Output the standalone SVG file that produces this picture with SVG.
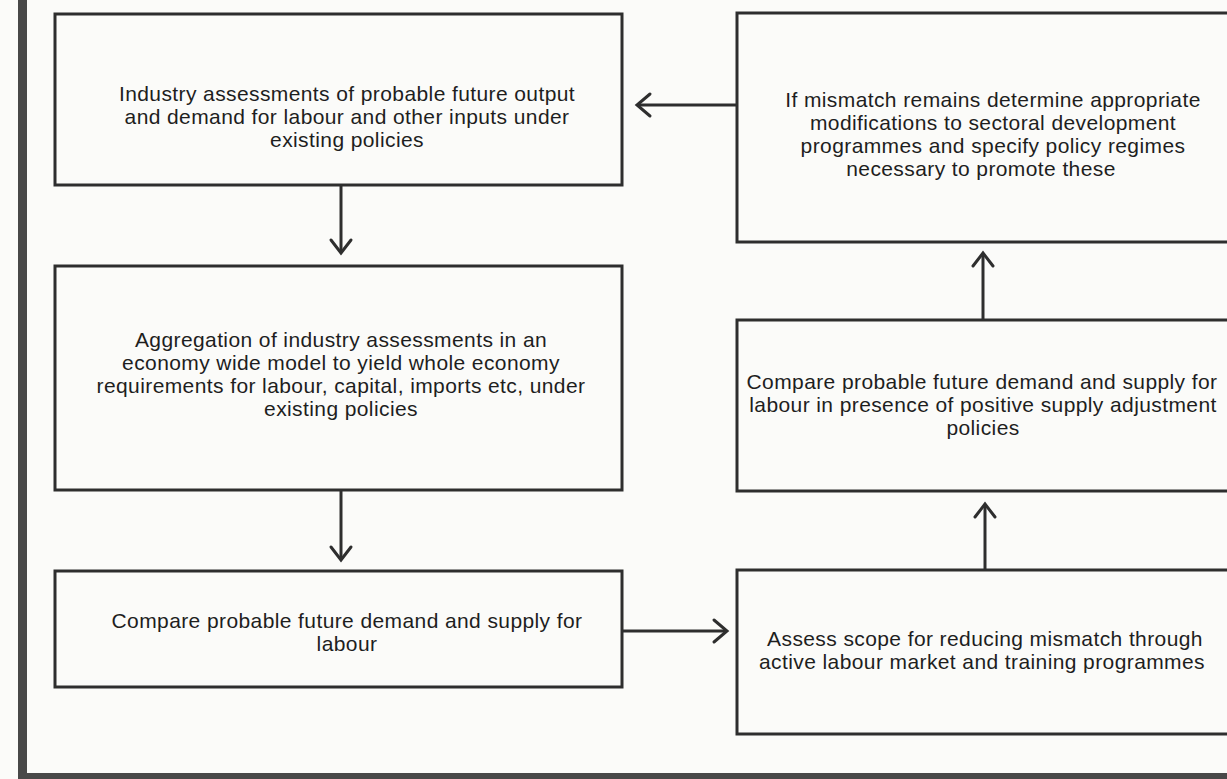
<svg xmlns="http://www.w3.org/2000/svg" width="1227" height="779" viewBox="0 0 1227 779">
  <style>
    .box { fill: none; stroke: #2e2e2e; stroke-width: 3; }
    .frame { fill: #484848; }
    .lbl { font-family: "Liberation Sans", Arial, sans-serif; font-size: 21px; letter-spacing: 0.4px; fill: #1e1e1e; text-anchor: middle; }
    .edge { fill: none; stroke: #2e2e2e; stroke-width: 3; }
    .head { fill: none; stroke: #2e2e2e; stroke-width: 3; stroke-linecap: round; stroke-linejoin: miter; }
  </style>
  <rect width="1227" height="779" fill="#fbfbf9"/>

  <!-- page frame: left rule and bottom rule -->
  <rect class="frame" x="18" y="0" width="9" height="779"/>
  <rect class="frame" x="18" y="773" width="1209" height="6"/>

  <g id="n-industry">
    <rect class="box" x="55" y="14" width="567" height="171"/>
    <text class="lbl" x="347" y="100.5">Industry assessments of probable future output</text>
    <text class="lbl" x="347" y="123.5">and demand for labour and other inputs under</text>
    <text class="lbl" x="347" y="146.5">existing policies</text>
  </g>

  <g id="n-aggregation">
    <rect class="box" x="55" y="266" width="567" height="224"/>
    <text class="lbl" x="341" y="347">Aggregation of industry assessments in an</text>
    <text class="lbl" x="341" y="370">economy wide model to yield whole economy</text>
    <text class="lbl" x="341" y="393">requirements for labour, capital, imports etc, under</text>
    <text class="lbl" x="341" y="416">existing policies</text>
  </g>

  <g id="n-compare">
    <rect class="box" x="55" y="571" width="567" height="116"/>
    <text class="lbl" x="347" y="628">Compare probable future demand and supply for</text>
    <text class="lbl" x="347" y="651">labour</text>
  </g>

  <g id="n-assess">
    <rect class="box" x="737" y="570" width="510" height="164"/>
    <text class="lbl" x="985" y="645.5">Assess scope for reducing mismatch through</text>
    <text class="lbl" x="982" y="668.5">active labour market and training programmes</text>
  </g>

  <g id="n-compare-adjust">
    <rect class="box" x="737" y="320" width="510" height="171"/>
    <text class="lbl" x="982" y="388.5">Compare probable future demand and supply for</text>
    <text class="lbl" x="983" y="411.5">labour in presence of positive supply adjustment</text>
    <text class="lbl" x="983" y="434.5">policies</text>
  </g>

  <g id="n-mismatch">
    <rect class="box" x="737" y="13" width="510" height="229"/>
    <text class="lbl" x="993" y="106.5">If mismatch remains determine appropriate</text>
    <text class="lbl" x="993" y="129.5">modifications to sectoral development</text>
    <text class="lbl" x="993" y="152.5">programmes and specify policy regimes</text>
    <text class="lbl" x="981" y="175.5">necessary to promote these</text>
  </g>

  <g id="connectors">
    <!-- industry -> aggregation -->
    <path class="edge" d="M341 185 V252"/>
    <path class="head" d="M331 240 L341 253 L351 240"/>
    <!-- aggregation -> compare -->
    <path class="edge" d="M341 490 V559"/>
    <path class="head" d="M331 547 L341 560 L351 547"/>
    <!-- compare -> assess -->
    <path class="edge" d="M622 631 H726"/>
    <path class="head" d="M714 620 L727 631 L714 642"/>
    <!-- assess -> compare with adjustment -->
    <path class="edge" d="M985 570 V505"/>
    <path class="head" d="M975 517 L985 504 L995 517"/>
    <!-- compare with adjustment -> mismatch -->
    <path class="edge" d="M983 320 V254"/>
    <path class="head" d="M973 266 L983 253 L993 266"/>
    <!-- mismatch -> industry -->
    <path class="edge" d="M737 105 H638"/>
    <path class="head" d="M650 94 L637 105 L650 116"/>
  </g>
</svg>
